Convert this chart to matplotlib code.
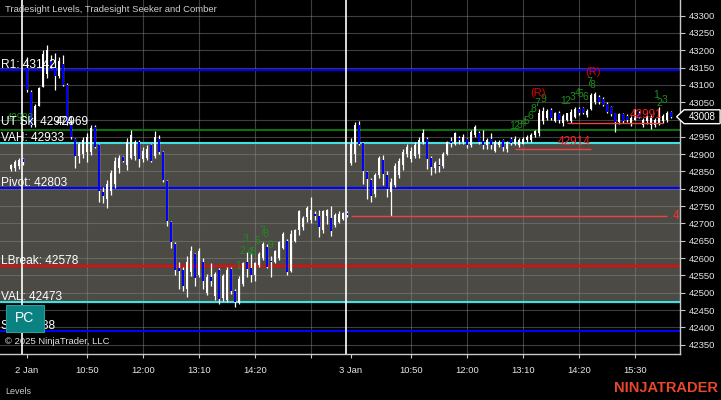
import numpy as np
import matplotlib
matplotlib.use("Agg")
import matplotlib.pyplot as plt
from matplotlib.patches import Polygon, Rectangle

plt.rcParams['font.family'] = ['Liberation Sans', 'DejaVu Sans']

# 5 minute bars, index 0 = 2 Jan 9:35, index 81 = 3 Jan 9:35
first_bar = -4
opens = [42858, 42860, 42866, 42886,
         # 2 Jan
         43150, 43080, 42985, 43040, 43095, 43130, 43170, 43150, 43125, 43160,
         43100, 42985, 42945, 42895, 42900, 42905, 42905, 42978, 42925, 42790,
         42770, 42795, 42815, 42860, 42892, 42870, 42890, 42895, 42935, 42885,
         42890, 42925, 42895, 42944, 42905, 42822, 42705, 42642, 42570, 42565,
         42510, 42560, 42612, 42550, 42590, 42500, 42545, 42490, 42565, 42485,
         42480, 42567, 42505, 42470, 42525, 42590, 42572, 42550, 42580, 42600,
         42632, 42592, 42590, 42600, 42630, 42650, 42562, 42650, 42680, 42690,
         42718, 42710, 42728, 42720, 42680, 42720, 42715, 42695, 42705, 42712,
         42730,
         # 3 Jan
         42875, 42900, 42985, 42933, 42848, 42826, 42785, 42840, 42884, 42840,
         42790, 42810, 42840, 42870, 42900, 42885, 42895, 42900, 42935, 42945,
         42888, 42860, 42870, 42865, 42900, 42938, 42928, 42948, 42935, 42945,
         42925, 42955, 42962, 42938, 42925, 42945, 42910, 42925, 42940, 42915,
         42945, 42930, 42925, 42930, 42940, 42940, 42955, 42960, 42995, 43005,
         43028, 42995, 43020, 42990, 43000, 42995, 43008, 43030, 43033, 43012,
         43030, 43050, 43066, 43060, 43045, 43035, 43018, 42992, 43015, 43010,
         42990, 43000, 43020, 42985, 42995, 42985, 42985, 42990, 42995, 42998,
         43022]
highs = [42872, 42884, 42888, 42890,
         43180, 43085, 43045, 43094, 43200, 43215, 43185, 43192, 43180, 43186,
         43105, 42992, 42948, 42935, 42950, 42962, 42985, 42985, 42930, 42805,
         42826, 42855, 42893, 42898, 42895, 42947, 42970, 42942, 42940, 42920,
         42925, 42928, 42967, 42955, 42910, 42825, 42708, 42645, 42590, 42575,
         42607, 42636, 42615, 42630, 42600, 42555, 42585, 42560, 42570, 42553,
         42573, 42575, 42510, 42547, 42590, 42618, 42615, 42590, 42618, 42645,
         42640, 42605, 42624, 42650, 42676, 42655, 42680, 42685, 42740, 42722,
         42750, 42777, 42735, 42740, 42740, 42743, 42750, 42730, 42735, 42733,
         42735,
         42947, 42993, 42995, 42935, 42850, 42830, 42846, 42895, 42898, 42850,
         42830, 42875, 42890, 42916, 42928, 42921, 42935, 42950, 42972, 42950,
         42895, 42880, 42890, 42905, 42938, 42950, 42965, 42952, 42958, 42948,
         42970, 42985, 42968, 42970, 42948, 42960, 42940, 42940, 42945, 42938,
         42950, 42952, 42948, 42950, 42955, 42960, 42970, 43030, 43035, 43030,
         43032, 43022, 43025, 43015, 43020, 43030, 43036, 43036, 43036, 43030,
         43077, 43080, 43072, 43065, 43050, 43040, 43020, 43020, 43018, 43015,
         43010, 43030, 43025, 43005, 43012, 43012, 43005, 43036, 43015, 43025,
         43025]
lows = [42850, 42852, 42858, 42868,
        43078, 42979, 42979, 43038, 43095, 43120, 43150, 43085, 43120, 43098,
        42985, 42945, 42860, 42875, 42890, 42878, 42898, 42918, 42763, 42760,
        42745, 42783, 42803, 42846, 42878, 42855, 42885, 42884, 42864, 42878,
        42884, 42878, 42890, 42900, 42820, 42692, 42630, 42550, 42510, 42505,
        42489, 42547, 42518, 42545, 42510, 42494, 42520, 42480, 42466, 42475,
        42472, 42495, 42460, 42466, 42518, 42545, 42530, 42535, 42575, 42595,
        42570, 42545, 42587, 42595, 42627, 42550, 42560, 42645, 42667, 42682,
        42705, 42702, 42710, 42662, 42673, 42697, 42665, 42691, 42700, 42711,
        42718,
        42869, 42878, 42925, 42815, 42770, 42762, 42775, 42832, 42810, 42775,
        42720, 42805, 42830, 42855, 42893, 42878, 42890, 42890, 42928, 42857,
        42840, 42845, 42848, 42860, 42898, 42920, 42925, 42930, 42930, 42918,
        42920, 42950, 42930, 42915, 42915, 42915, 42905, 42920, 42910, 42905,
        42925, 42925, 42920, 42928, 42935, 42936, 42950, 42953, 42988, 43000,
        43000, 42993, 42990, 42982, 42995, 42990, 43005, 43012, 43015, 43008,
        43028, 43045, 43045, 43040, 43020, 43010, 42965, 42988, 42990, 42992,
        42982, 42998, 43003, 42978, 42988, 42972, 42978, 42985, 42990, 42993,
        43005]
closes = [42868, 42878, 42882, 42876,
          43085, 42985, 43040, 43090, 43190, 43200, 43155, 43125, 43170, 43100,
          42990, 42950, 42895, 42930, 42940, 42950, 42975, 42922, 42795, 42778,
          42815, 42845, 42880, 42890, 42880, 42935, 42955, 42935, 42885, 42910,
          42915, 42880, 42950, 42905, 42825, 42708, 42645, 42565, 42562, 42520,
          42590, 42620, 42542, 42620, 42535, 42545, 42535, 42555, 42482, 42548,
          42565, 42505, 42473, 42540, 42585, 42568, 42550, 42585, 42612, 42640,
          42575, 42588, 42620, 42645, 42670, 42560, 42670, 42680, 42735, 42715,
          42745, 42740, 42722, 42690, 42735, 42740, 42678, 42725, 42728, 42730,
          42725,
          42930, 42985, 42930, 42850, 42828, 42778, 42840, 42890, 42842, 42798,
          42820, 42865, 42880, 42905, 42920, 42910, 42925, 42940, 42960, 42886,
          42862, 42875, 42866, 42900, 42935, 42932, 42960, 42940, 42950, 42925,
          42965, 42978, 42935, 42925, 42940, 42925, 42935, 42935, 42922, 42935,
          42932, 42945, 42942, 42945, 42950, 42955, 42968, 43020, 43025, 43025,
          43003, 43018, 43000, 43010, 43018, 43022, 43030, 43018, 43020, 43025,
          43070, 43075, 43050, 43043, 43022, 43015, 42992, 43015, 42995, 43000,
          43005, 43025, 43008, 43000, 43010, 43005, 43000, 43030, 43010, 43020,
          43008]

session_breaks = [-1, 80]
tick_pos = [0, 15, 29, 43, 57, 71, 81, 96, 110, 124, 138, 152]
tick_labels = ["2 Jan", "10:50", "12:00", "13:10", "14:20", "",
               "3 Jan", "10:50", "12:00", "13:10", "14:20", "15:30"]
price_ticks = np.arange(42350, 43301, 50)

level_names = ["R1", "VAH", "Pivot", "LBreak", "VAL", "S1"]
level_values = [43142, 42933, 42803, 42578, 42473, 42388]
level_colors = ["#0000ff", "#40e0e0", "#0000ff", "#ff0000", "#40e0e0", "#0000ff"]
ut_value = 42974
sbreak_value = 42969

# Seeker / Comber counts: (bar, price, text)
count_bars = [52.8, 53.8, 54.8, 55.8, 56.6, 57.6, 58.8, 59.6, 60.8,
              121.3, 122.3, 123.1, 124.1, 124.8, 125.8, 126.6, 127.6, 129.1,
              134.1, 135.1, 136.5, 137.6, 138.3, 139.6, 140.6, 141.5,
              157.3, 158.2, 159.4]
count_prices = [42578, 42621, 42656, 42618, 42618, 42650, 42679, 42670, 42638,
                42982, 42982, 42985, 42990, 42996, 43011, 43031, 43048, 43060,
                43052, 43052, 43065, 43077, 43074, 43065, 43107, 43100,
                43071, 43047, 43055]
count_text = ["1", "2", "3", "4", "5", "6", "7", "8", "9",
              "1", "2", "3", "4", "5", "6", "8", "7", "9",
              "1", "2", "3", "4", "5", "6", "7", "8",
              "1", "2", "3"]
reversal_bars = [127.8, 141.6]
reversal_prices = [43077, 43136]

# red target lines: (start bar, end bar, price, label)
target_start = [81, 122, 135]
target_end = [160, 141, 159]
target_price = [42720, 42914, 42991]
target_label = ["4", "42914", "42991"]

o = np.array(opens)
h = np.array(highs)
l = np.array(lows)
c = np.array(closes)
x = np.arange(first_bar, first_bar + len(c))

fig = plt.figure(figsize=(7.21, 4.0), dpi=100, facecolor="black")
ax = fig.add_axes([0, 46 / 400, 680 / 721, 354 / 400])
ax.set_facecolor("black")
ax.set_xlim(-6.7, 163.3)
ax.set_ylim(42323, 43345)

# value area
vah = level_values[level_names.index("VAH")]
val = level_values[level_names.index("VAL")]
ax.axhspan(val, vah, color="#4b4a45", zorder=0)

# grid
for p in price_ticks:
    ax.axhline(p, color="#8a8a8a", alpha=0.45, lw=0.8, zorder=1)
for t in tick_pos:
    if t not in (0, 81):
        ax.axvline(t, color="#8a8a8a", alpha=0.45, lw=0.8, zorder=1)

# levels
for name, v, col in zip(level_names, level_values, level_colors):
    ax.axhline(v, color=col, lw=1.5, zorder=2)
    ax.text(-6.5, v + 6, f"{name}: {v}", color="white", fontsize=8.6,
            va="baseline", ha="left", zorder=6)
ax.axhline(ut_value, color="#800080", lw=0.9, zorder=2)
ax.axhline(sbreak_value, color="#008000", lw=1.3, zorder=2)
ax.text(-5.0, sbreak_value + 27, "42988", color="#1e8c1e", fontsize=7,
        va="baseline", zorder=5)
ax.text(-6.5, ut_value + 10, f"UT Sk: {ut_value}", color="white", fontsize=8.6,
        va="baseline", zorder=6)
ax.text(15.5, sbreak_value + 16, f"{sbreak_value}", color="white",
        fontsize=8.6, va="baseline", ha="right", zorder=6)

# session breaks
for s in session_breaks:
    ax.axvline(s - 0.1, color="white", lw=1.2, zorder=4)

# candles
up = c >= o
body_lo = np.minimum(o, c)
body_h = np.maximum(np.abs(c - o), 2.5)
ax.vlines(x, l, h, color="white", lw=0.9, zorder=3)
ax.bar(x, body_h, bottom=body_lo, width=0.5,
       color=np.where(up, "white", "#0000ff"), zorder=3.5)

# target lines
for s, e, p, lab in zip(target_start, target_end, target_price, target_label):
    ax.hlines(p, s, e, color="#f04040", lw=1.0, zorder=3.6)
    if lab == "4":
        ax.text(e + 1.5, p, lab, color="#ff3030", fontsize=8.5, va="center",
                zorder=6)
    else:
        ax.text(e, p + 4, lab, color="#ff2020", fontsize=8.5, ha="right",
                va="bottom", zorder=6)

# seeker counts
for bx, py, t in zip(count_bars, count_prices, count_text):
    ax.text(bx, py, t, color="#1e8c1e", fontsize=7.5, ha="center", va="center",
            zorder=6)
for bx, py in zip(reversal_bars, reversal_prices):
    ax.text(bx, py, "(R)", color="#e00000", fontsize=8, ha="center",
            va="center", zorder=6)

# axes
for side in ("left", "top"):
    ax.spines[side].set_visible(False)
for side in ("right", "bottom"):
    ax.spines[side].set_color("#c8c8c8")
    ax.spines[side].set_linewidth(1.0)
ax.yaxis.tick_right()
last = c[-1]
ax.set_yticks(price_ticks)
# the last-price marker hides the nearest tick label
ax.set_yticklabels(["" if abs(p - last) < 25 else str(p) for p in price_ticks])
ax.set_xticks(tick_pos)
ax.set_xticklabels(tick_labels)
ax.tick_params(axis="y", colors="#c8c8c8", labelcolor="#e6e6e6", labelsize=6.8,
               length=3.6, width=0.8, pad=3)
ax.tick_params(axis="x", colors="#c8c8c8", labelcolor="#e6e6e6", labelsize=6.8,
               length=3, width=0.8, pad=5.5)

# last price marker
tr = ax.get_yaxis_transform()
marker = Polygon([(0.995, last), (1.006, last + 20), (1.059, last + 20),
                  (1.059, last - 20), (1.006, last - 20)], closed=True,
                 transform=tr, facecolor="black", edgecolor="white", lw=1,
                 clip_on=False, zorder=10)
ax.add_patch(marker)
ax.text(1.032, last, str(int(last)), transform=tr, color="white", fontsize=7,
        ha="center", va="center", zorder=11, clip_on=False)

# decorations
fig.text(5 / 721, 1 - 10 / 400, "Tradesight Levels, Tradesight Seeker and Comber",
         color="#d0d0d0", fontsize=6.8, va="center")
fig.text(5 / 721, 1 - 342 / 400, "\u00a9 2025 NinjaTrader, LLC", color="#e0e0e0",
         fontsize=6.8, va="center")
fig.text(5 / 721, 1 - 391 / 400, "Levels", color="#c8c8c8", fontsize=6.5,
         va="center")
fig.text(718 / 721, 1 - 388 / 400, "NINJATRADER", color="#e8472b", fontsize=10.5,
         fontweight="bold", ha="right", va="center")
fig.add_artist(Rectangle((5.7 / 721, 1 - 331.7 / 400), 38.6 / 721, 26.7 / 400,
                         transform=fig.transFigure, facecolor="#0b8282",
                         edgecolor="#2a9a9a", lw=0.8, zorder=20))
fig.text(25 / 721, 1 - 318.5 / 400, "PC", color="white", fontsize=10,
         ha="center", va="center", zorder=21)

fig.savefig("out.png", dpi=100, facecolor="black")
